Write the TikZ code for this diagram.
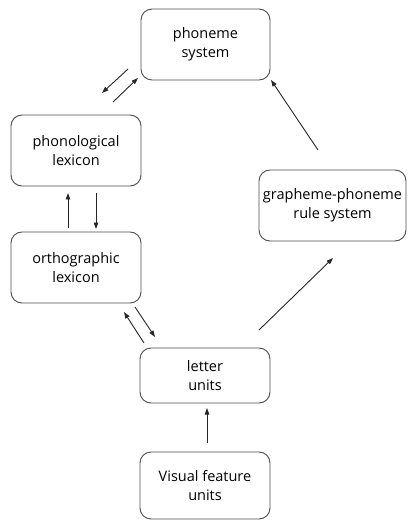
\documentclass[tikz,border=0pt]{standalone}
\usepackage{fontspec}
\setmainfont{Open Sans}
\usetikzlibrary{arrows.meta}
\begin{document}
\begin{tikzpicture}[x=1pt,y=-1pt,
  box/.style={draw=black!70,line width=0.9pt,rounded corners=11pt,align=center,
    inner sep=0pt,font=\fontsize{14.5}{19}\selectfont},
  arr/.style={draw=black!85,line width=0.9pt,-{Triangle[length=6.5pt,width=4.5pt]}}]
\useasboundingbox (0,0) rectangle (407,521);
\node[box,minimum width=129pt,minimum height=71pt] (phs) at (205.5,44.5) {phoneme\\system};
\node[box,minimum width=130pt,minimum height=71pt] (phl) at (76,150.5) {phonological\\lexicon};
\node[box,minimum width=130pt,minimum height=71pt] (orl) at (76,267.5) {orthographic\\lexicon};
\node[box,minimum width=147pt,minimum height=71pt] (gpr) at (332.5,205.5) {grapheme-phoneme\\rule system};
\node[box,minimum width=130pt,minimum height=55pt] (let) at (205,375.5) {letter\\units};
\node[box,minimum width=130pt,minimum height=67pt] (vis) at (205,485.5) {Visual feature\\units};
% free ends
\coordinate (a1) at (128,69);  \coordinate (a2) at (102,93);
\coordinate (b1) at (113,102); \coordinate (b2) at (138,78);
\coordinate (c1) at (68,228);  \coordinate (c2) at (68,193);
\coordinate (d1) at (96,193);  \coordinate (d2) at (96,229);
\coordinate (e1) at (144,343); \coordinate (e2) at (124,312);
\coordinate (f1) at (135,307); \coordinate (f2) at (155,337);
\coordinate (g1) at (259,330); \coordinate (g2) at (333,258);
\coordinate (h1) at (318,150); \coordinate (h2) at (271,80);
\coordinate (v1) at (207,443); \coordinate (v2) at (207,408);
\draw[arr] (a1) -- (a2);
\draw[arr] (b1) -- (b2);
\draw[arr] (c1) -- (c2);
\draw[arr] (d1) -- (d2);
\draw[arr] (e1) -- (e2);
\draw[arr] (f1) -- (f2);
\draw[arr] (g1) -- (g2);
\draw[arr] (h1) -- (h2);
\draw[arr] (v1) -- (v2);
\end{tikzpicture}
\end{document}
